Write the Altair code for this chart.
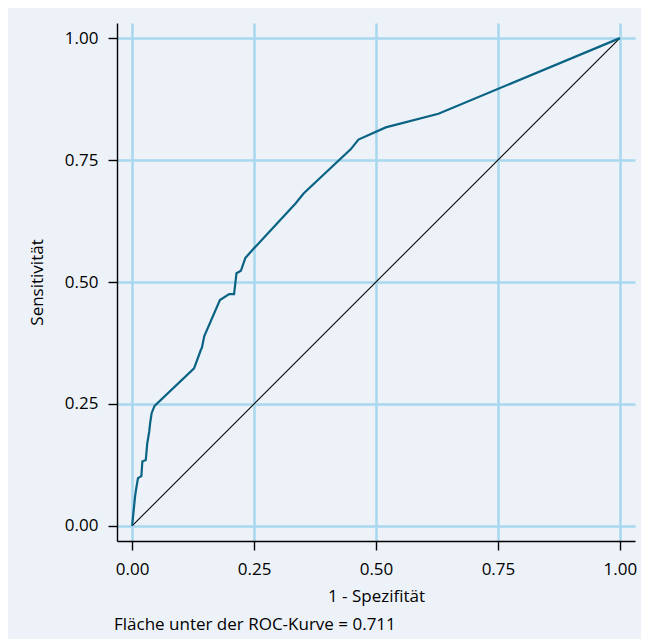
import altair as alt
import pandas as pd

# ROC curve
fpr = [0.0, 0.002, 0.004, 0.006, 0.008, 0.012, 0.019, 0.021, 0.028, 0.031, 0.035,
       0.037, 0.040, 0.046, 0.127, 0.141, 0.143, 0.148, 0.180, 0.199, 0.209, 0.214,
       0.223, 0.232, 0.247, 0.335, 0.352, 0.448, 0.464, 0.520, 0.628, 1.0]
tpr = [0.0, 0.020, 0.040, 0.060, 0.074, 0.098, 0.102, 0.132, 0.135, 0.169, 0.193,
       0.211, 0.231, 0.246, 0.323, 0.361, 0.365, 0.389, 0.463, 0.475, 0.475, 0.518,
       0.523, 0.549, 0.566, 0.661, 0.682, 0.772, 0.792, 0.817, 0.845, 1.0]
diag = [0.0, 1.0]
ticks = [0.0, 0.25, 0.5, 0.75, 1.0]
x_title = "1 - Spezifität"
y_title = "Sensitivität"
footnote = "Fläche unter der ROC-Kurve = 0.711"

roc = pd.DataFrame({"fpr": fpr, "tpr": tpr, "order": list(range(len(fpr)))})
dg = pd.DataFrame({"fpr": diag, "tpr": diag})

FONT = "Open Sans"
FS = 17
dom = [-0.031, 1.031]

xenc = alt.X("fpr:Q", scale=alt.Scale(domain=dom, nice=False, zero=False),
             axis=alt.Axis(values=ticks, format=".2f", title=x_title))
yenc = alt.Y("tpr:Q", scale=alt.Scale(domain=dom, nice=False, zero=False),
             axis=alt.Axis(values=ticks, format=".2f", title=y_title))

diag_line = alt.Chart(dg).mark_line(color="black", strokeWidth=1.1).encode(x=xenc, y=yenc)
roc_line = alt.Chart(roc).mark_line(color="#0a6384", strokeWidth=2.2).encode(
    x=xenc, y=yenc, order="order:Q")

chart = alt.layer(diag_line, roc_line).properties(
    width=518, height=518,
    background="#edf2f9",
    padding={"left": 20, "top": 15, "right": 4, "bottom": 6},
    title=alt.TitleParams(text=footnote, orient="bottom", anchor="start",
                          font=FONT, fontSize=FS, fontWeight="normal",
                          color="black", offset=13, frame="group", dx=-3),
).configure_view(stroke=None).configure_axis(
    domainColor="black", domainWidth=1.4,
    tickColor="black", tickWidth=1.4, tickSize=9,
    gridColor="#a8d7ee", gridWidth=2.6,
    labelFont=FONT, labelFontSize=FS, labelColor="black", labelPadding=11,
    titleFont=FONT, titleFontSize=FS, titleFontWeight="normal", titleColor="black",
).configure_axisX(titlePadding=11).configure_axisY(labelPadding=10, titlePadding=18)

chart.save("out.html", embed_options={"renderer": "svg", "actions": False})
